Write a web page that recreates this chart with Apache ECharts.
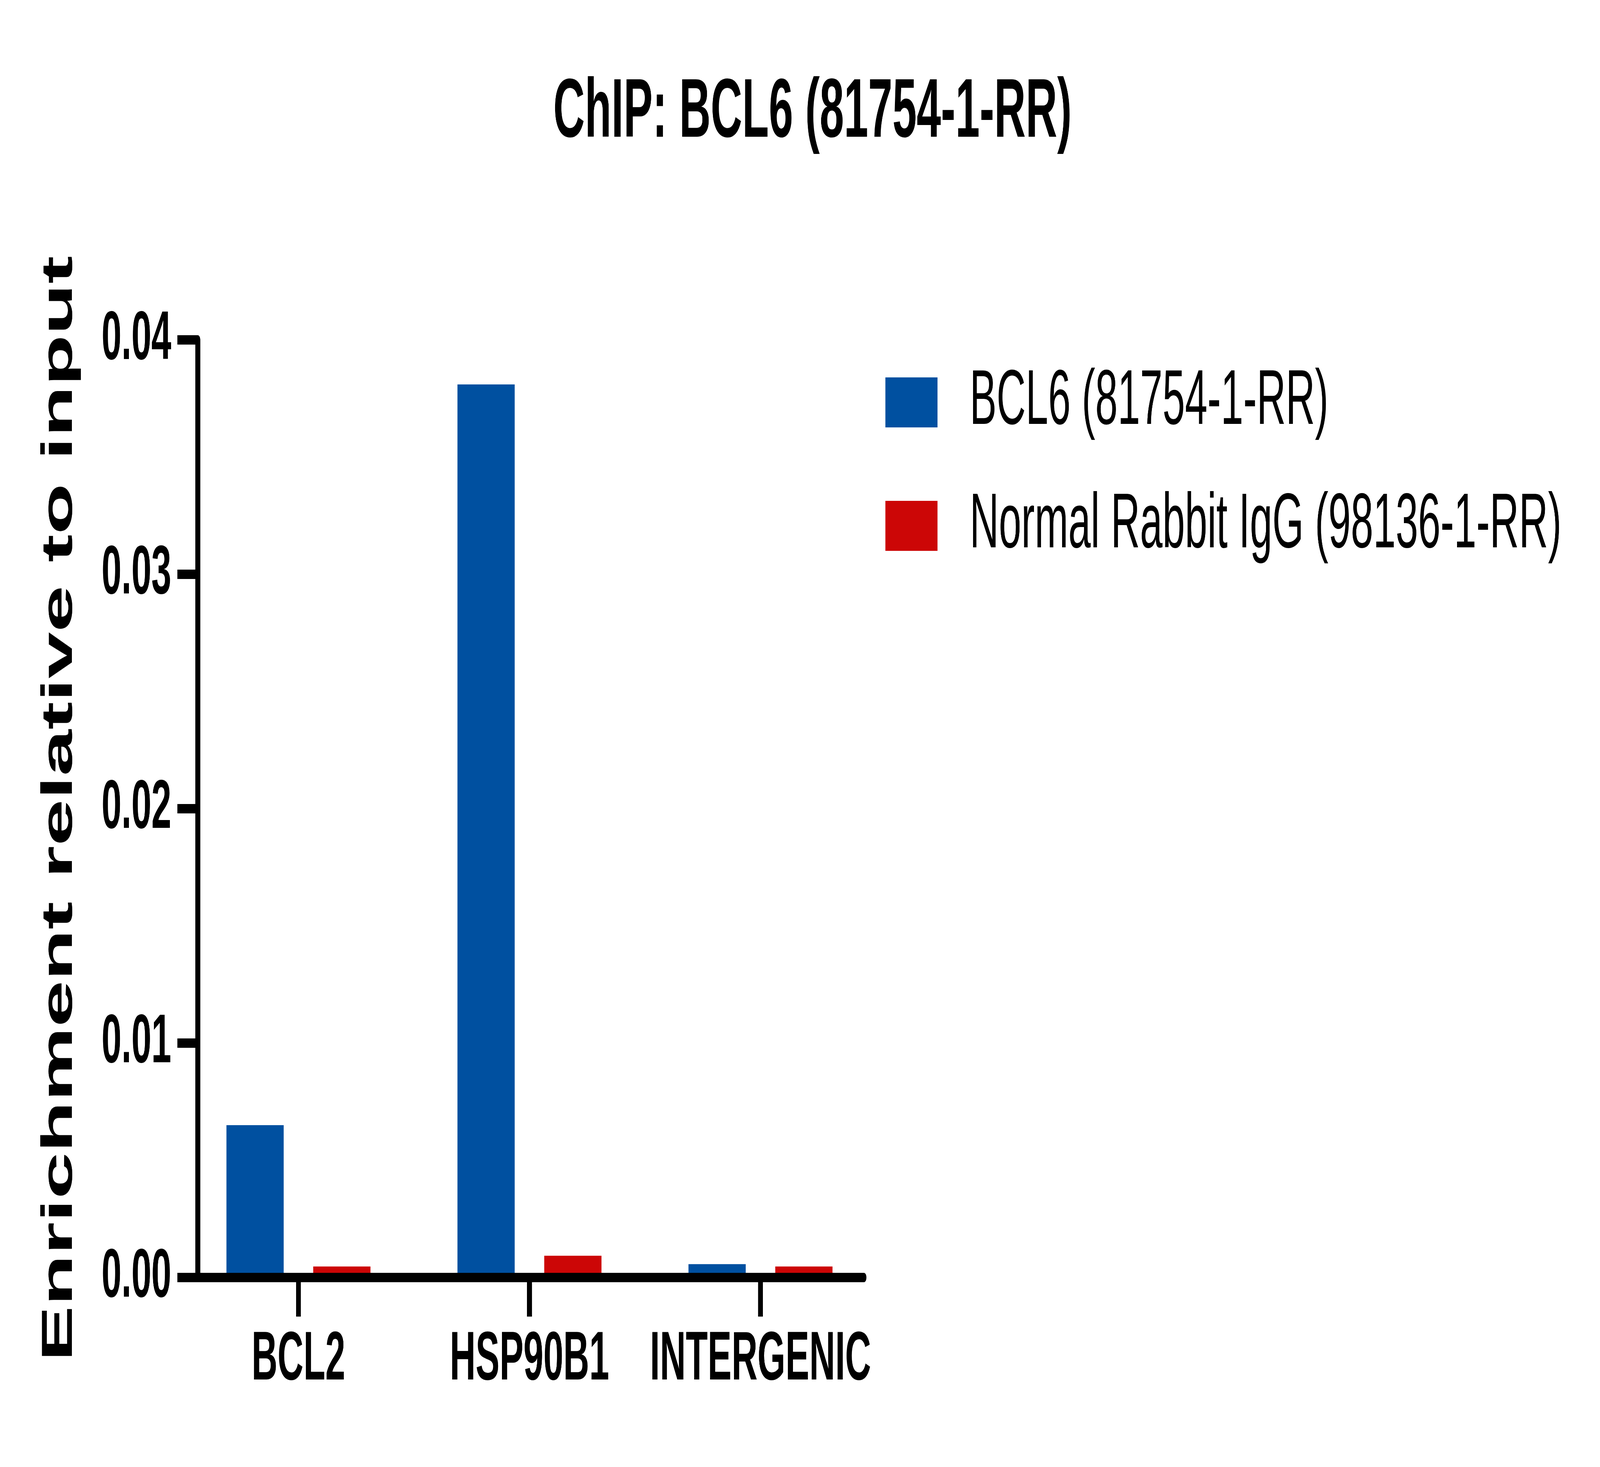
<!DOCTYPE html>
<html>
<head>
<meta charset="utf-8">
<script src="https://cdn.jsdelivr.net/npm/echarts@6/dist/echarts.min.js"></script>
<style>
html,body{margin:0;padding:0;background:#fff;overflow:hidden;}
#chart{width:7854px;height:3755px;transform-origin:0 0;}
</style>
</head>
<body>
<div id="chart"></div>
<script>
const titleText = 'ChIP: BCL6 (81754-1-RR)';
const categories = ['BCL2', 'HSP90B1', 'INTERGENIC'];
const seriesNames = ['BCL6 (81754-1-RR)', 'Normal Rabbit IgG (98136-1-RR)'];
const bcl6Values = [0.0065, 0.0381, 0.00057];
const iggValues = [0.00047, 0.00093, 0.00047];
const yTickLabels = ['0.00', '0.01', '0.02', '0.03', '0.04'];
const yAxisTitle = 'Enrichment relative to input';

// The window may be narrower than the 7854x3755 design; fit the design into it.
const el = document.getElementById('chart');
const sx = Math.min(1, window.innerWidth / 7854);
const sy = Math.min(1, window.innerHeight / 3755);
el.style.transform = 'scale(' + sx + ',' + sy + ')';

const FONT = 'Liberation Sans, Arial, sans-serif';
const chart = echarts.init(el, null, { width: 7854, height: 3755 });
const option = {
  animation: false,
  backgroundColor: '#ffffff',
  title: {
    text: titleText,
    left: 2716,
    top: 184,
    padding: 0,
    textStyle: { fontFamily: FONT, fontSize: 214, fontWeight: 'bold', color: '#000' }
  },
  legend: {
    orient: 'vertical',
    left: 4346,
    top: 931,
    padding: 0,
    itemWidth: 256,
    itemHeight: 128,
    itemGap: 118,
    icon: 'rect',
    data: seriesNames,
    textStyle: { fontFamily: FONT, fontSize: 198, color: '#000', padding: [0, 0, 0, 153] }
  },
  grid: [
    { left: 971, top: 870, width: 3270, height: 2400 },
    { left: 898, top: 870, width: 3402, height: 2400 }
  ],
  xAxis: [
    {
      gridIndex: 0, type: 'category', data: categories, z: 10,
      axisLine: { show: true, lineStyle: { color: '#000', width: 24 } },
      axisTick: { show: false },
      axisLabel: { show: false },
      splitLine: { show: false }
    },
    {
      gridIndex: 1, type: 'category', data: categories, z: 10,
      axisLine: { show: false },
      axisTick: { show: true, alignWithLabel: true, interval: 0, length: 100, lineStyle: { color: '#000', width: 24 } },
      axisLabel: { interval: 0, hideOverlap: false, margin: 124, fontFamily: FONT, fontSize: 176, fontWeight: 'bold', color: '#000' },
      splitLine: { show: false }
    }
  ],
  yAxis: [
    {
      gridIndex: 0, type: 'value', min: 0, max: 0.04, interval: 0.01, z: 10,
      axisLine: { show: true, lineStyle: { color: '#000', width: 24 } },
      axisTick: { show: true, length: 100, lineStyle: { color: '#000', width: 24 } },
      axisLabel: {
        margin: 130, fontFamily: FONT, fontSize: 176, fontWeight: 'bold', color: '#000',
        formatter: v => yTickLabels[Math.round(v / 0.01)]
      },
      splitLine: { show: false },
      name: yAxisTitle,
      nameLocation: 'middle',
      nameGap: 570,
      nameTextStyle: { fontFamily: FONT, fontSize: 214, fontWeight: 'bold', color: '#000' }
    },
    { gridIndex: 1, type: 'value', min: 0, max: 0.04, interval: 0.01, show: false }
  ],
  series: [
    {
      name: seriesNames[0], type: 'bar', xAxisIndex: 1, yAxisIndex: 1,
      data: bcl6Values, barWidth: 281, barGap: '51.6%',
      itemStyle: { color: '#0050A0' }
    },
    {
      name: seriesNames[1], type: 'bar', xAxisIndex: 1, yAxisIndex: 1,
      data: iggValues, barWidth: 281, barGap: '51.6%',
      itemStyle: { color: '#CC0606' }
    }
  ]
};
chart.setOption(option);
</script>
</body>
</html>
